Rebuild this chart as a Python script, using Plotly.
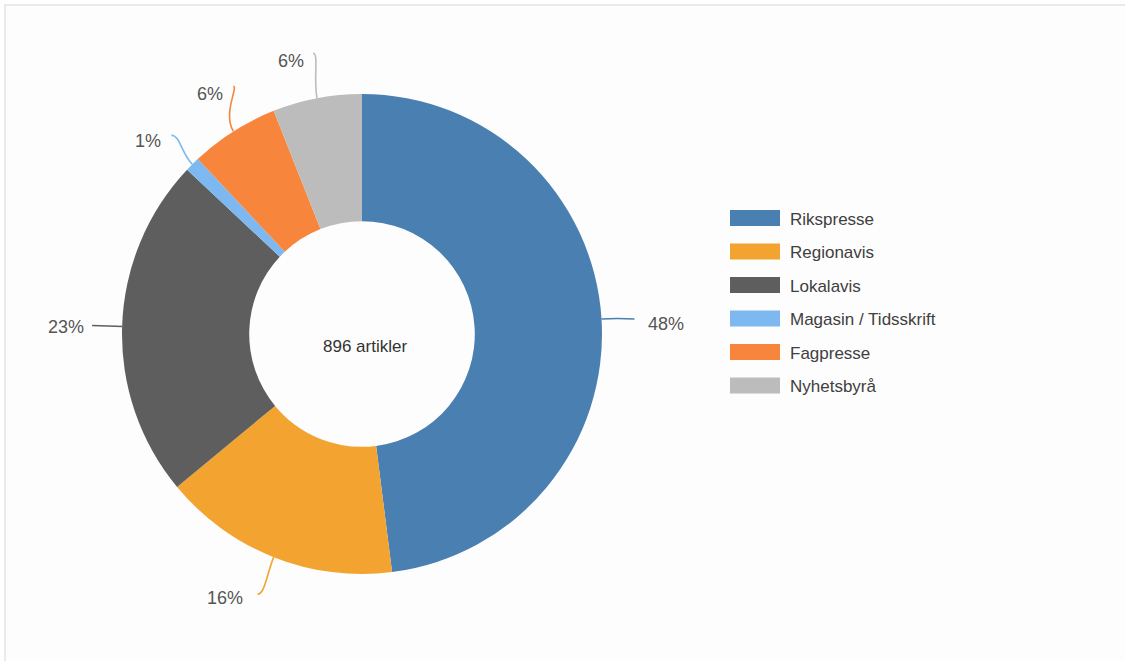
import math
import plotly.graph_objects as go

# Article distribution by outlet type
categories = ["Rikspresse", "Regionavis", "Lokalavis", "Magasin / Tidsskrift", "Fagpresse", "Nyhetsbyrå"]
shares = [48, 16, 23, 1, 6, 6]          # percent of all articles
total_articles = 896
colors = ["#4a7fb1", "#f2a330", "#5e5e5e", "#7db9f0", "#f7853b", "#bcbcbc"]

W, H = 1125, 661
FONT = "Liberation Sans, Arial, sans-serif"

# Donut geometry in pixels
CX, CY, R = 362, 334, 240
HOLE = 0.47

# Connector end offsets (from slice edge) and label offsets (from connector end)
connector = {
    "Rikspresse": dict(end=(33, 0), text=(11, 5), anchor="left", bend=0),
    "Regionavis": dict(end=(-16, 37), text=(-13, 4), anchor="right", bend=7),
    "Lokalavis": dict(end=(-30, -1), text=(-6, 2), anchor="right", bend=0),
    "Magasin / Tidsskrift": dict(end=(-21, -29), text=(-8, 6), anchor="right", bend=9),
    "Fagpresse": dict(end=(0, -45), text=(-8, 8), anchor="right", bend=5),
    "Nyhetsbyrå": dict(end=(-4, -45), text=(-7, 8), anchor="right", bend=6),
}


def px(x):
    return x / W


def py(y):
    return 1 - y / H


fig = go.Figure(
    go.Pie(
        labels=categories,
        values=shares,
        sort=False,
        direction="clockwise",
        rotation=0,
        hole=HOLE,
        marker=dict(colors=colors, line=dict(width=0)),
        textinfo="none",
        hoverinfo="label+percent",
        showlegend=False,
        domain=dict(x=[px(CX - R), px(CX + R)], y=[py(CY + R), py(CY - R)]),
    )
)

shapes = [
    # card frame
    dict(type="rect", xref="paper", yref="paper",
         x0=px(5), x1=px(W + 20), y0=py(H + 20), y1=py(5),
         fillcolor="#fdfdfd", line=dict(color="#e3e3e3", width=1.5), layer="below"),
]
annotations = []

# Outside percentage labels with curved connectors
total = sum(shares)
cum = 0
for cat, val, col in zip(categories, shares, colors):
    mid = (cum + val / 2) / total * 2 * math.pi
    cum += val
    ux, uy = math.sin(mid), -math.cos(mid)
    x0, y0 = CX + R * ux, CY + R * uy
    spec = connector[cat]
    x3, y3 = x0 + spec["end"][0], y0 + spec["end"][1]
    seg = math.hypot(x3 - x0, y3 - y0)
    c1x, c1y = x0 + ux * seg * 0.45, y0 + uy * seg * 0.45
    side = 1 if spec["anchor"] == "right" else -1
    c2x, c2y = x3 + side * spec["bend"], y3
    path = (f"M {px(x0)},{py(y0)} C {px(c1x)},{py(c1y)} "
            f"{px(c2x)},{py(c2y)} {px(x3)},{py(y3)}")
    shapes.append(dict(type="path", path=path, xref="paper", yref="paper",
                       line=dict(color=col, width=1.6)))
    annotations.append(dict(
        x=px(x3 + spec["text"][0]), y=py(y3 + spec["text"][1]),
        xref="paper", yref="paper", text=f"{val}%", showarrow=False,
        xanchor=spec["anchor"], yanchor="middle",
        font=dict(family=FONT, size=18, color="#555555"),
    ))

# Center caption
annotations.append(dict(
    x=px(CX + 3), y=py(CY + 12), xref="paper", yref="paper",
    text=f"{total_articles} artikler", showarrow=False,
    xanchor="center", yanchor="middle",
    font=dict(family=FONT, size=17, color="#333333"),
))

# Legend with wide swatches
LEG_X, LEG_Y, LEG_STEP = 730, 218, 33.5
for i, (cat, col) in enumerate(zip(categories, colors)):
    yc = LEG_Y + i * LEG_STEP
    shapes.append(dict(type="rect", xref="paper", yref="paper",
                       x0=px(LEG_X), x1=px(LEG_X + 50),
                       y0=py(yc + 8), y1=py(yc - 8),
                       fillcolor=col, line=dict(width=0)))
    annotations.append(dict(
        x=px(LEG_X + 58), y=py(yc + 1), xref="paper", yref="paper",
        text=cat, showarrow=False, xanchor="left", yanchor="middle",
        font=dict(family=FONT, size=17, color="#404040"),
    ))

fig.update_layout(
    width=W, height=H,
    margin=dict(l=0, r=0, t=0, b=0),
    paper_bgcolor="white",
    plot_bgcolor="white",
    shapes=shapes,
    annotations=annotations,
)

fig.write_html("out.html")
